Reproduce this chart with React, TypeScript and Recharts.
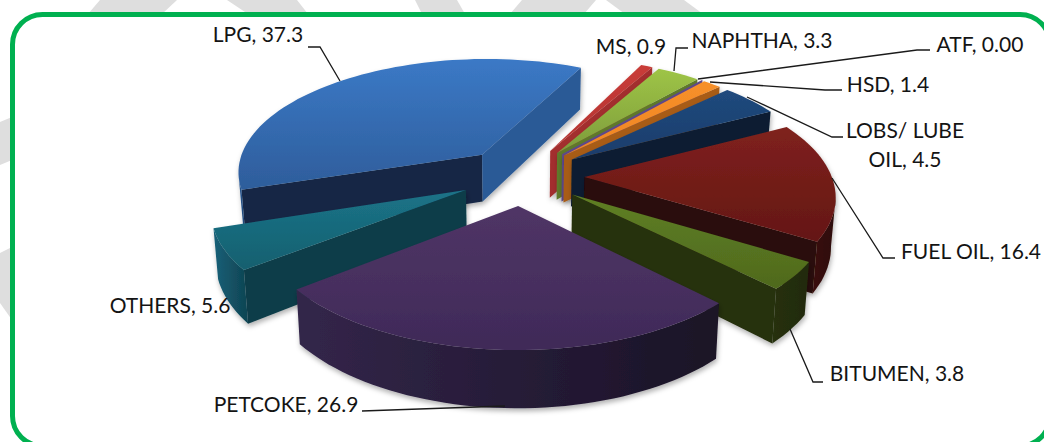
import { PieChart, Pie } from "recharts";

const names = ["LPG", "MS", "NAPHTHA", "ATF", "HSD", "LOBS/ LUBE OIL", "FUEL OIL", "BITUMEN", "PETCOKE", "OTHERS"];
const shares = [37.3, 0.9, 3.3, 0, 1.4, 4.5, 16.4, 3.8, 26.9, 5.6];
const shareLabels = ["37.3", "0.9", "3.3", "0.00", "1.4", "4.5", "16.4", "3.8", "26.9", "5.6"];

const pieData = names.map((name, i) => ({ name, value: shares[i], shareLabel: shareLabels[i] }));

// top light, top dark, first radial face, outer wall left, outer wall right, last radial face
const palette: Record<string, string[]> = {
  LPG: ["#3b79c6", "#2e5d9b", "#152845", "#2a5a96", "#1f4472", "#2a5a96"],
  MS: ["#c93c39", "#b23331", "#8d2b29", "#8d2b29", "#8d2b29", "#a32f2d"],
  NAPHTHA: ["#9ec446", "#7d9c3c", "#5f7a2c", "#5f7a2c", "#5f7a2c", "#5f7a2c"],
  ATF: ["#5f4a8b", "#5f4a8b", "#5f4a8b", "#5f4a8b", "#5f4a8b", "#5f4a8b"],
  HSD: ["#f6902a", "#f08522", "#a85c18", "#a85c18", "#a85c18", "#a85c18"],
  "LOBS/ LUBE OIL": ["#20497d", "#1a3d6b", "#0b1d33", "#0b1d33", "#0b1d33", "#0b1d33"],
  "FUEL OIL": ["#7f211d", "#641714", "#2c0907", "#3a0c0a", "#2c0907", "#2c0907"],
  BITUMEN: ["#5f7f24", "#4f691d", "#26300e", "#26300e", "#222b0c", "#26300e"],
  PETCOKE: ["#503566", "#3f2a58", "#2a1e3e", "#33264a", "#1a1226", "#2a1e3e"],
  OTHERS: ["#1b7388", "#15606f", "#0e3d48", "#186078", "#0f4452", "#0e3d48"],
};

// label text boxes and leader lines
const labelLayout: Record<string, { x: number; y: number; lines: string[]; leader?: number[][] }> = {
  LPG: { x: 258, y: 42, lines: ["LPG, 37.3"], leader: [[308, 47], [320, 47], [340, 81]] },
  MS: { x: 631, y: 54, lines: ["MS, 0.9"] },
  NAPHTHA: { x: 762, y: 48, lines: ["NAPHTHA, 3.3"], leader: [[688, 48], [676, 48], [674, 71]] },
  ATF: { x: 980, y: 52, lines: ["ATF, 0.00"], leader: [[930, 50], [917, 50], [698, 79]] },
  HSD: { x: 888, y: 92, lines: ["HSD, 1.4"], leader: [[842, 90], [825, 90], [710, 82]] },
  "LOBS/ LUBE OIL": { x: 905, y: 138, lines: ["LOBS/ LUBE", "OIL, 4.5"], leader: [[843, 137], [832, 137], [747, 97]] },
  "FUEL OIL": { x: 971, y: 259, lines: ["FUEL OIL, 16.4"], leader: [[895, 258], [883, 258], [832, 178]] },
  BITUMEN: { x: 897, y: 381, lines: ["BITUMEN, 3.8"], leader: [[823, 382], [813, 382], [790, 329]] },
  PETCOKE: { x: 286, y: 412, lines: ["PETCOKE, 26.9"], leader: [[362, 411], [505, 406]] },
  OTHERS: { x: 170, y: 313, lines: ["OTHERS, 5.6"] },
};

// grey page watermark showing outside the frame
const watermark = [
  "88,14 100,0 177,0 162,14",
  "227,0 297,0 308,14 248,14",
  "415,0 457,0 465,14 422,14",
  "510,14 522,0 596,0 584,14",
  "606,0 684,0 703,14 625,14",
  "0,122 12,117 12,160 0,165",
  "0,253 12,247 12,320 0,303",
];

const PERSPECTIVE = 0.14;
const TILT = 0.464;
const EXPLODE = 0.253;
const DEPTH = 48;

type Pt = [number, number];

// disk coordinates (radius 1, y toward the viewer) to screen
function project(cx: number, cy: number, r: number, x: number, y: number): Pt {
  const s = 1 / (1 - PERSPECTIVE * y);
  return [cx + r * x * s, cy + r * TILT * y * s];
}

function lower(cx: number, cy: number, r: number, x: number, y: number): Pt {
  const s = 1 / (1 - PERSPECTIVE * y);
  const p = project(cx, cy, r, x, y);
  return [cx + (p[0] - cx) * 0.985, p[1] + DEPTH * s];
}

const pathOf = (pts: Pt[]) => "M" + pts.map((p) => `${p[0].toFixed(1)},${p[1].toFixed(1)}`).join("L") + "Z";

function Slice3D(props: any) {
  const { cx, cy, outerRadius, startAngle, endAngle, midAngle, payload, name } = props;
  const key = name ?? payload?.name;
  const c = palette[key];
  const id = key.replace(/[^A-Z]/g, "");
  const mid = (-midAngle * Math.PI) / 180;
  const ox = EXPLODE * Math.cos(mid);
  const oy = EXPLODE * Math.sin(mid);

  const disk: Pt[] = [[ox, oy]];
  const steps = Math.max(2, Math.ceil(Math.abs(startAngle - endAngle) / 2));
  for (let i = 0; i <= steps; i++) {
    const a = (-(startAngle + ((endAngle - startAngle) * i) / steps) * Math.PI) / 180;
    disk.push([ox + Math.cos(a), oy + Math.sin(a)]);
  }
  const top = disk.map((d) => project(cx, cy, outerRadius, d[0], d[1]));
  const bottom = disk.map((d) => lower(cx, cy, outerRadius, d[0], d[1]));

  // walls: an edge walked leftwards on screen faces the viewer
  const n = top.length - 1;
  const arcVisible: Pt[] = [];
  const arcBottom: Pt[] = [];
  for (let i = 1; i <= n; i++) {
    const goesLeft = (i < n && top[i + 1][0] < top[i][0]) || (i > 1 && top[i][0] < top[i - 1][0]);
    if (goesLeft) {
      arcVisible.push(top[i]);
      arcBottom.unshift(bottom[i]);
    }
  }
  const firstVisible = top[1][0] < top[0][0];
  const lastVisible = top[0][0] < top[n][0];

  return (
    <g filter="url(#sliceShadow)">
      <defs>
        <linearGradient id={`top${id}`} x1="0" y1="0" x2="0" y2="1">
          <stop offset="0%" stopColor={c[0]} />
          <stop offset="100%" stopColor={c[1]} />
        </linearGradient>
        <linearGradient id={`arc${id}`} x1="0" y1="0" x2="1" y2="0">
          <stop offset="0%" stopColor={c[3]} />
          <stop offset="100%" stopColor={c[4]} />
        </linearGradient>
      </defs>
      {firstVisible && <path d={pathOf([top[0], top[1], bottom[1], bottom[0]])} fill={c[2]} />}
      {lastVisible && <path d={pathOf([top[n], top[0], bottom[0], bottom[n]])} fill={c[5]} />}
      {arcVisible.length > 1 && <path d={pathOf([...arcVisible, ...arcBottom])} fill={`url(#arc${id})`} />}
      <path d={pathOf(top)} fill={`url(#top${id})`} stroke={key === "ATF" ? c[0] : "none"} strokeWidth={1.2} />
    </g>
  );
}

const keepOut = (skip: string) => (props: any) => ((props.name ?? props.payload?.name) === skip ? <g /> : <Slice3D {...props} />);
const onlyThis = (keep: string) => (props: any) => ((props.name ?? props.payload?.name) === keep ? <Slice3D {...props} /> : <g />);

function SliceLabel(props: any) {
  const layout = labelLayout[props.name ?? props.payload?.name];
  return (
    <g>
      {layout.leader && (
        <polyline points={layout.leader.map((p) => p.join(",")).join(" ")} fill="none" stroke="#1a1a1a" strokeWidth={1.3} />
      )}
      <text textAnchor="middle" fontFamily="Lato" fontSize={21} fill="#141414">
        {layout.lines.map((line, i) => (
          <tspan key={line} x={layout.x} y={layout.y + i * 29}>
            {line}
          </tspan>
        ))}
      </text>
    </g>
  );
}

export default function App() {
  return (
    <div style={{ position: "absolute", left: 0, top: 0, width: 1044, height: 442, overflow: "hidden", background: "#fff" }}>
      <svg width={1044} height={442} style={{ position: "absolute", left: 0, top: 0 }}>
        {watermark.map((points) => (
          <polygon key={points} points={points} fill="#dedede" />
        ))}
        <rect x={12.5} y={14.5} width={1037.5} height={431.5} rx={30} fill="#fff" stroke="#00b050" strokeWidth={5} />
      </svg>
      <PieChart
        width={1044}
        height={442}
        margin={{ top: 0, right: 0, bottom: 0, left: 0 }}
        style={{ position: "absolute", left: 0, top: 0 }}
      >
        <defs>
          <filter id="sliceShadow" x="-10%" y="-10%" width="120%" height="125%">
            <feDropShadow dx={1} dy={3} stdDeviation={2.5} floodColor="#000" floodOpacity={0.3} />
          </filter>
        </defs>
        <Pie
          data={pieData}
          dataKey="value"
          nameKey="name"
          cx={522}
          cy={176}
          outerRadius={247}
          startAngle={198}
          endAngle={-162}
          shape={keepOut("PETCOKE")}
          labelLine={false}
          isAnimationActive={false}
        />
        <Pie
          data={pieData}
          dataKey="value"
          nameKey="name"
          cx={522}
          cy={176}
          outerRadius={247}
          startAngle={198}
          endAngle={-162}
          shape={onlyThis("PETCOKE")}
          label={SliceLabel}
          labelLine={false}
          isAnimationActive={false}
        />
      </PieChart>
    </div>
  );
}
